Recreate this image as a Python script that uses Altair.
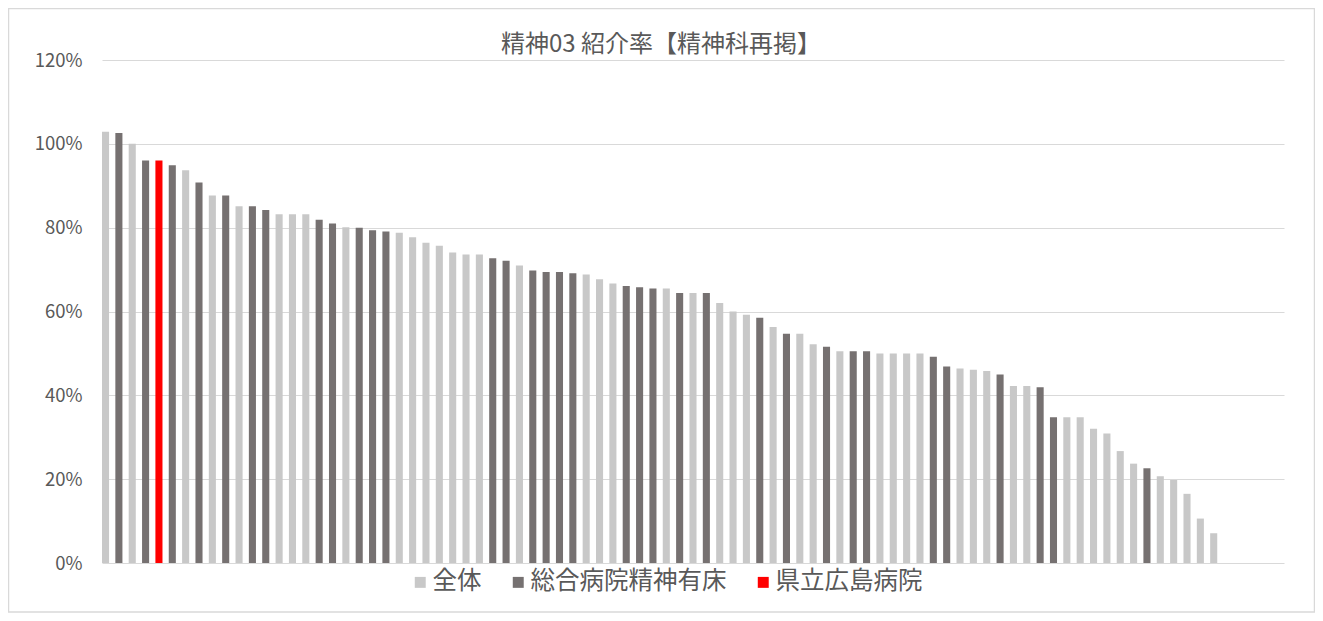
import altair as alt
import pandas as pd

# Bar values (%) in display order, and their group
values = [102.9, 102.6, 100.0, 96.0, 96.0, 94.9, 93.7, 90.8, 87.7, 87.7,
          85.1, 85.1, 84.2, 83.2, 83.2, 83.2, 81.9, 81.0, 80.1, 80.0,
          79.4, 79.1, 78.8, 77.7, 76.4, 75.7, 74.1, 73.6, 73.6, 72.7,
          72.1, 71.0, 69.8, 69.4, 69.4, 69.1, 68.8, 67.7, 66.7, 66.1,
          65.8, 65.5, 65.5, 64.4, 64.4, 64.4, 62.0, 60.0, 59.2, 58.5,
          56.3, 54.7, 54.7, 52.2, 51.6, 50.5, 50.5, 50.5, 50.0, 50.0,
          50.0, 50.0, 49.2, 46.9, 46.4, 46.1, 45.8, 45.0, 42.2, 42.2,
          41.9, 34.8, 34.8, 34.8, 32.0, 30.9, 26.7, 23.7, 22.6, 20.7,
          19.8, 16.5, 10.6, 7.1]
# L = 全体, D = 総合病院精神有床, R = 県立広島病院
codes = "LDLDRDLDLD" "LDDLLLDDLD" "DDLLLLLLLD" "DLDDDDLLLD" "DDLDLDLLLD" \
        "LDLLDLDDLL" "LLDDLLLDLL" "DDLLLLLLDL" "LLLL"
group_names = ["全体", "総合病院精神有床", "県立広島病院"]
group_colors = ["#c8c8c8", "#767171", "#ff0000"]
code_map = {"L": group_names[0], "D": group_names[1], "R": group_names[2]}
n_slots = 89  # category slots on the axis (last ones empty)
title_text = ["精神03 紹介率【精神科再掲】"]

df = pd.DataFrame({
    "idx": list(range(1, len(values) + 1)),
    "value": values,
    "group": [code_map[c] for c in codes],
})
title_df = pd.DataFrame({"t": title_text})

FONT = "Noto Sans CJK JP"
TEXT = "#595959"
W, H = 1182, 503

bars = alt.Chart(df).mark_bar().encode(
    x=alt.X("idx:O", axis=None,
            scale=alt.Scale(domain=list(range(1, n_slots + 1)),
                            paddingInner=0.47, paddingOuter=0)),
    y=alt.Y("value:Q",
            scale=alt.Scale(domain=[0, 120], nice=False),
            axis=alt.Axis(values=[0, 20, 40, 60, 80, 100, 120],
                          labelExpr="datum.value + '%'",
                          title=None, domain=False, ticks=False,
                          grid=True, gridColor="#d9d9d9", gridWidth=1,
                          labelFont=FONT, labelFontSize=18.5,
                          labelColor=TEXT, labelPadding=20)),
    color=alt.Color("group:N",
                    scale=alt.Scale(domain=group_names, range=group_colors),
                    legend=alt.Legend(title=None, orient="none",
                                      direction="horizontal",
                                      legendX=306, legendY=510,
                                      symbolType="square", symbolSize=120,
                                      symbolStrokeWidth=0,
                                      labelFont=FONT, labelFontSize=24.5,
                                      labelColor=TEXT, labelOffset=0,
                                      labelLimit=500,
                                      columnPadding=24, padding=0)),
)

frame = alt.Chart(title_df).mark_rect(fill=None, stroke="#d9d9d9",
                                      strokeWidth=1.5, clip=False).encode(
    x=alt.value(-93.5), x2=alt.value(1212.5),
    y=alt.value(-51.5), y2=alt.value(552),
)

title = alt.Chart(title_df).mark_text(font=FONT, fontSize=24, color=TEXT,
                                      baseline="middle", align="center",
                                      clip=False).encode(
    text="t:N", x=alt.value(559), y=alt.value(-15),
)

chart = alt.layer(frame, bars, title).properties(
    width=W, height=H,
    background="white",
    autosize=alt.AutoSizeParams(type="none"),
    padding={"left": 94, "top": 52, "right": 31, "bottom": 50},
).configure_view(strokeWidth=0, stroke="transparent")

chart.save("out.html", embed_options={"renderer": "svg", "actions": False})
